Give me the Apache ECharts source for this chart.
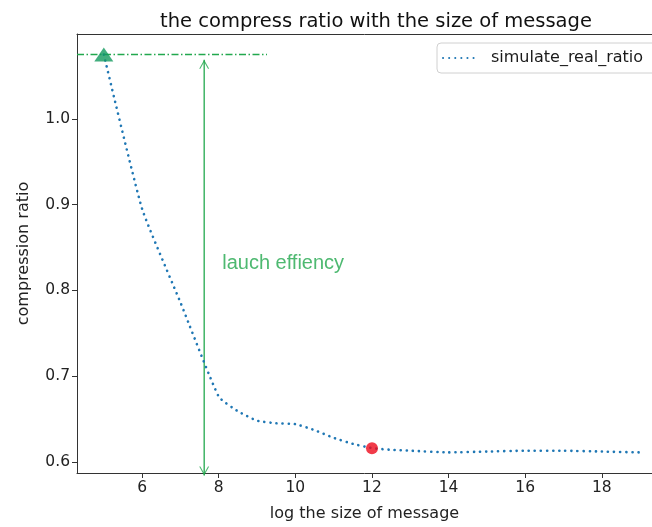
<!DOCTYPE html>
<html>
<head>
<meta charset="utf-8">
<script src="https://cdn.jsdelivr.net/npm/echarts@6/dist/echarts.min.js"></script>
<style>
html,body{margin:0;padding:0;background:#fff;}
#chart{width:652px;height:527px;}
</style>
</head>
<body>
<div id="chart"></div>
<script>
// log size of message
var sizes = [5, 6, 7, 8, 8.5, 9, 9.5, 10, 10.5, 11, 11.5, 12, 12.5, 13, 14, 15, 16, 17, 18, 19];
// simulate_real_ratio
var ratios = [1.075, 0.895, 0.786, 0.676, 0.659, 0.648, 0.645, 0.644, 0.637, 0.628, 0.621, 0.616, 0.614, 0.613, 0.611, 0.612, 0.613, 0.613, 0.612, 0.611];
var xTicks = [6, 8, 10, 12, 14, 16, 18];
var yTicks = [0.6, 0.7, 0.8, 0.9, 1.0];
var startPoint = [5, 1.075];   // triangle
var knee = [12, 0.616];        // red dot
var launchX = 7.62;
var arrowTop = 1.069, arrowBottom = 0.584;
var hLineEnd = 9.26;
var noteAt = [8.09, 0.831];

var GREEN = '#22a84e';
var CHEVRON = 'path://M0,10 L5,0 L10,10 L8.8,10 L5,2.6 L1.2,10 Z';
var chart = echarts.init(document.getElementById('chart'));

var linePts = [];
for (var i = 0; i < sizes.length; i++) {
    linePts.push([sizes[i], ratios[i]]);
}

var X_MIN = 4.3, X_MAX = 19.31;

var option = {
    animation: false,
    textStyle: {fontFamily: 'DejaVu Sans'},
    title: {
        text: 'the compress ratio with the size of message',
        left: 371, top: 7, textAlign: 'center',
        textStyle: {fontSize: 19.5, fontWeight: 'normal', color: '#111', fontFamily: 'DejaVu Sans'}
    },
    legend: {
        data: ['simulate_real_ratio'],
        left: 437, top: 43,
        padding: [7, 30, 7, 5],
        itemWidth: 35, itemHeight: 14,
        itemStyle: {opacity: 0},
        borderColor: '#d0d0d0', borderWidth: 1, borderRadius: 4,
        textStyle: {fontSize: 16, color: '#1a1a1a', padding: [0, 0, 0, 8]}
    },
    grid: {
        left: 77, top: 34, right: 0, bottom: 54
    },
    xAxis: [{
        type: 'value', min: X_MIN, max: X_MAX,
        name: 'log the size of message', nameLocation: 'middle', nameGap: 33,
        nameTextStyle: {fontSize: 16, color: '#222'},
        splitLine: {show: false},
        axisLine: {lineStyle: {color: '#333'}},
        axisTick: {customValues: xTicks, length: 5, lineStyle: {color: '#333'}},
        axisLabel: {customValues: xTicks, fontSize: 15.5, color: '#222', margin: 7}
    }, {
        type: 'value', min: X_MIN, max: X_MAX, position: 'top',
        splitLine: {show: false},
        axisLine: {show: true, lineStyle: {color: '#333'}},
        axisTick: {show: false},
        axisLabel: {show: false}
    }],
    yAxis: {
        type: 'value', min: 0.587, max: 1.099,
        name: 'compression ratio', nameLocation: 'middle', nameGap: 45, nameRotate: 90,
        nameTextStyle: {fontSize: 16, color: '#222'},
        splitLine: {show: false},
        axisLine: {show: true, lineStyle: {color: '#333'}},
        axisTick: {show: true, customValues: yTicks, length: 5, lineStyle: {color: '#333'}},
        axisLabel: {customValues: yTicks, fontSize: 15.5, color: '#222', margin: 7,
            formatter: function (v) { return v.toFixed(1); }}
    },
    series: [
        {
            name: 'simulate_real_ratio',
            type: 'line',
            data: linePts,
            smooth: 0.15,
            showSymbol: false,
            symbol: 'none',
            color: '#1f77b4',
            lineStyle: {color: '#1f77b4', width: 2.6, type: [0.1, 6], cap: 'round'},
            z: 3
        },
        {
            name: 'hline',
            type: 'line',
            data: [[X_MIN, startPoint[1]], [hLineEnd, startPoint[1]]],
            symbol: 'none',
            lineStyle: {color: GREEN, width: 1.5, type: [7, 2.5, 1.5, 2.5]},
            z: 2
        },
        {
            name: 'arrow',
            type: 'line',
            data: [[launchX, arrowTop], [launchX, arrowBottom]],
            symbol: 'none',
            clip: false,
            lineStyle: {color: GREEN, width: 1.3},
            z: 2
        },
        {
            name: 'arrowHeads',
            type: 'scatter',
            symbol: CHEVRON,
            symbolSize: [10, 9],
            clip: false,
            itemStyle: {color: GREEN},
            data: [
                {value: [launchX, arrowTop], symbolRotate: 0, symbolOffset: [0, 4.5]},
                {value: [launchX, arrowBottom], symbolRotate: 180, symbolOffset: [0, -4.5]}
            ],
            z: 2
        },
        {
            name: 'start',
            type: 'scatter',
            data: [startPoint],
            symbol: 'triangle',
            symbolSize: [19, 14],
            itemStyle: {color: '#139a5e'},
            z: 5
        },
        {
            name: 'knee',
            type: 'scatter',
            data: [knee],
            symbol: 'circle',
            symbolSize: 12,
            itemStyle: {color: '#ee0a1c'},
            z: 5
        },
        {
            name: 'note',
            type: 'scatter',
            data: [noteAt],
            symbolSize: 0,
            label: {
                show: true, position: 'right', distance: 0,
                formatter: 'lauch effiency',
                fontSize: 20, color: GREEN, fontFamily: 'Liberation Sans'
            }
        }
    ]
};
chart.setOption(option);
</script>
</body>
</html>
